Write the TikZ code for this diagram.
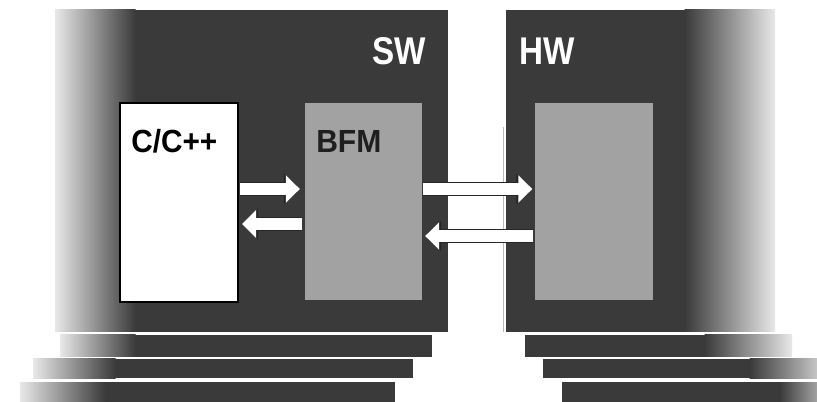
\documentclass[tikz,border=0pt]{standalone}
\usepackage{fontspec}
\setmainfont{Liberation Sans}
\usetikzlibrary{arrows.meta}
\definecolor{panel}{HTML}{3A3A3A}
\definecolor{inner}{HTML}{A2A2A2}
\definecolor{fade}{HTML}{E8E8E8}
\begin{document}
\begin{tikzpicture}[x=0.75pt,y=-0.75pt,
  cbox/.style={draw=black,line width=0.8pt,fill=white,minimum width=88.5pt,minimum height=149.25pt,inner sep=0pt,outer sep=0pt},
  gbox/.style={fill=inner,minimum width=88pt,minimum height=147.75pt,inner sep=0pt,outer sep=0pt},
  biglbl/.style={font=\bfseries\fontsize{29}{29}\selectfont,text=white,anchor=base west,inner sep=0pt},
  boxlbl/.style={font=\bfseries\fontsize{24}{24}\selectfont,anchor=base west,inner sep=0pt},
  blockarrow/.style={line width=9.5pt,draw=white,-{Triangle[width=20pt,length=10.5pt]},
    preaction={draw=black!85,line width=11pt,-{Triangle[width=22.5pt,length=12pt]}}}]
\useasboundingbox[fill=white] (0,0) rectangle (817,402);
% SW panel
\fill[panel] (135,10) rectangle (448,332);
\shade[left color=fade,right color=panel] (55,10) rectangle (135.5,332);
% HW panel
\fill[panel] (506,10) rectangle (685,332);
\shade[left color=panel,right color=fade] (684.5,10) rectangle (775,332);
\draw[gray!55,line width=0.6pt] (503,127) -- (503,332);
% bottom bars, left
\fill[panel] (135,335) rectangle (432,357);
\shade[left color=fade,right color=panel] (60,335) rectangle (135.5,357);
\fill[panel] (115,359) rectangle (413,378);
\shade[left color=fade,right color=panel] (33,359) rectangle (115.5,378);
\fill[panel] (105,382) rectangle (395,402);
\shade[left color=fade,right color=panel] (20,382) rectangle (105.5,402);
% bottom bars, right
\fill[panel] (525,335) rectangle (705,357);
\shade[left color=panel,right color=fade] (704.5,335) rectangle (792,357);
\fill[panel] (543,359) rectangle (750,378);
\shade[left color=panel,right color=fade!80!panel] (749.5,359) rectangle (817,378);
\fill[panel] (562,382) rectangle (780,402);
\shade[left color=panel,right color=fade!60!panel] (779.5,382) rectangle (817,402);
% boxes
\node[cbox] (cpp) at (179,202.5) {};
\node[gbox] (bfm) at (363.5,201.5) {};
\node[gbox] (hwbox) at (594,201.5) {};
% labels
\node[biglbl] (sw) at (372,65) {\scalebox{0.86}[1]{SW}};
\node[biglbl] (hw) at (519,65) {\scalebox{0.86}[1]{HW}};
\node[boxlbl,text=black] (cpptext) at (131,153) {\scalebox{0.93}[1]{C/C++}};
\node[boxlbl,text=black!88] (bfmtext) at (316,153) {\scalebox{0.94}[1]{BFM}};
% arrows
\coordinate (yR) at (0,189);
\coordinate (yL1) at (0,224);
\coordinate (yL2) at (0,236);
\draw[blockarrow,shorten <=1.5pt,shorten >=3.75pt] (cpp.east |- yR) -- (bfm.west |- yR);
\draw[blockarrow,shorten <=2.25pt,shorten >=3pt] (bfm.west |- yL1) -- (cpp.east |- yL1);
\draw[blockarrow,shorten <=0.75pt,shorten >=2.25pt] (bfm.east |- yR) -- (hwbox.west |- yR);
\draw[blockarrow,shorten <=1.5pt,shorten >=2.25pt] (hwbox.west |- yL2) -- (bfm.east |- yL2);
\end{tikzpicture}
\end{document}
